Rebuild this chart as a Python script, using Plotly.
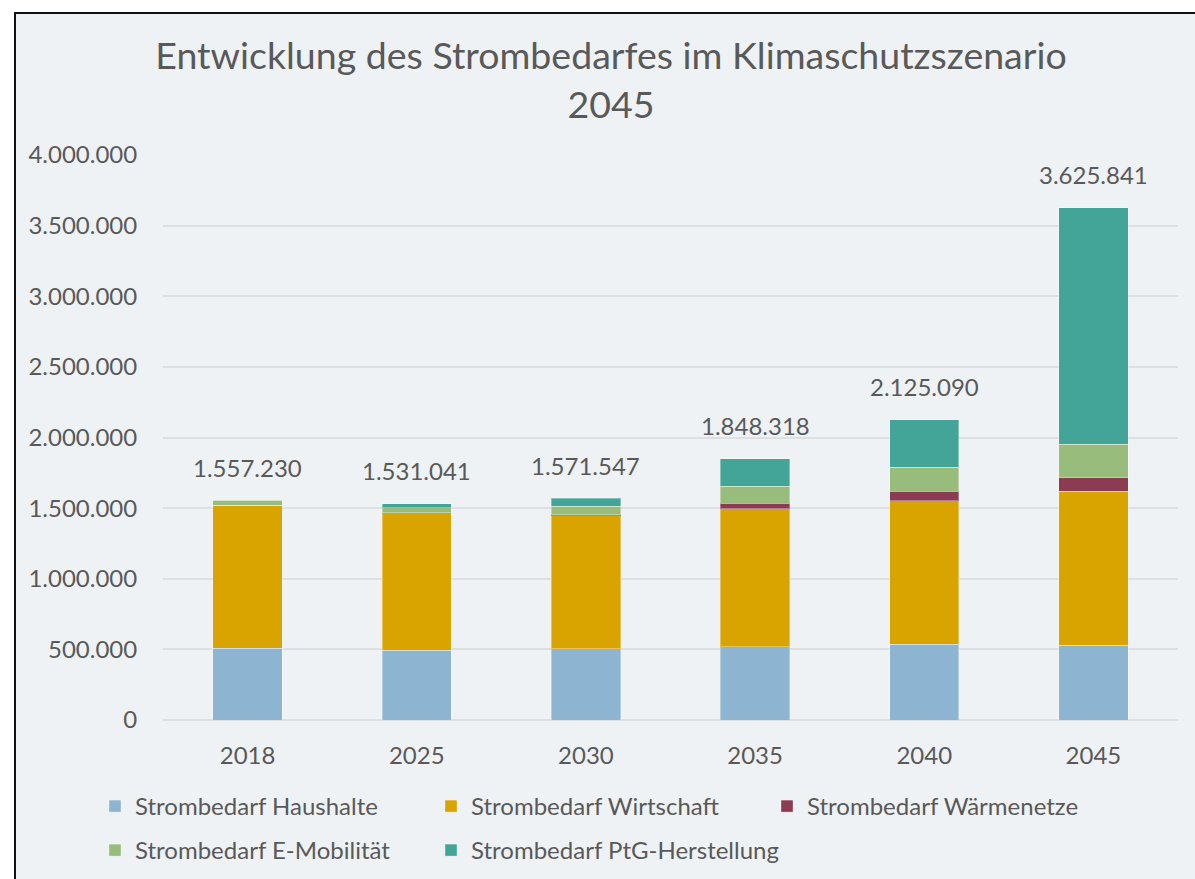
import plotly.graph_objects as go

# Stromverbrauch je Sektor in MWh, Klimaschutzszenario
years = ["2018", "2025", "2030", "2035", "2040", "2045"]
haushalte = [508000, 493000, 503000, 519000, 536000, 531000]
wirtschaft = [1014000, 975000, 943000, 978000, 1017000, 1088000]
waermenetze = [0, 0, 7000, 38000, 68000, 96000]
e_mobilitaet = [35230, 33000, 62000, 121000, 170000, 239000]
ptg_herstellung = [0, 30041, 56547, 192318, 334090, 1671841]
y_ticks = [0, 500000, 1000000, 1500000, 2000000, 2500000, 3000000, 3500000, 4000000]

series = [
    ("Strombedarf Haushalte", haushalte, "#8DB4D1", "legend"),
    ("Strombedarf Wirtschaft", wirtschaft, "#D9A300", "legend"),
    ("Strombedarf Wärmenetze", waermenetze, "#8B3B52", "legend"),
    ("Strombedarf E-Mobilität", e_mobilitaet, "#98BC7C", "legend2"),
    ("Strombedarf PtG-Herstellung", ptg_herstellung, "#42A597", "legend3"),
]

totals = [sum(v) for v in zip(haushalte, wirtschaft, waermenetze, e_mobilitaet, ptg_herstellung)]


def de_num(v):
    return f"{v:,}".replace(",", ".")


W, H = 1195, 879
L, R, T, B = 163, 17, 155, 159
PW, PH = W - L - R, H - T - B


def px_x(p):
    return (p - L) / PW


def px_y(p):
    return (H - B - p) / PH


BG = "#EEF2F5"
TXT = "#595959"
FONT = "Lato, 'Open Sans', sans-serif"

fig = go.Figure()
for name, vals, color, leg in series:
    fig.add_trace(go.Bar(
        x=years, y=vals, name=name, legend=leg,
        marker=dict(color=color, line=dict(color="rgba(255,255,255,0.35)", width=1)),
    ))

# Summenbeschriftung über jedem Stapel (Kategorie-Index als x-Position)
for i, tot in enumerate(totals):
    fig.add_annotation(
        x=i, y=tot, xref="x", yref="y",
        text=de_num(tot),
        showarrow=False, yshift=33,
        font=dict(size=24, color=TXT, family=FONT),
    )

# Rahmen des Diagrammbereichs
fig.add_shape(
    type="rect", xref="paper", yref="paper", layer="below",
    x0=px_x(15), x1=px_x(1300), y0=px_y(1000), y1=px_y(13),
    fillcolor=BG, line=dict(color="#111111", width=2),
)

legend_style = dict(
    orientation="h", xanchor="left", yanchor="top",
    bgcolor="rgba(0,0,0,0)", font=dict(size=24, color=TXT),
    entrywidth=291, entrywidthmode="pixels", itemwidth=30,
    traceorder="normal",
)
last_style = dict(legend_style, entrywidth=0)

fig.update_layout(
    width=W, height=H,
    margin=dict(l=L, r=R, t=T, b=B, autoexpand=False),
    paper_bgcolor="white", plot_bgcolor=BG,
    barmode="stack", bargap=0.59,
    font=dict(family=FONT, color=TXT, size=20),
    title=dict(
        text="Entwicklung des Strombedarfes im Klimaschutzszenario<br>2045",
        x=611 / W, xref="container", xanchor="center",
        y=1 - 69 / H, yref="container", yanchor="top",
        font=dict(size=37.5, color=TXT, family=FONT),
    ),
    xaxis=dict(
        type="category", categoryorder="array", categoryarray=years,
        range=[-0.5, len(years) - 0.5],
        showgrid=False, showline=False, zeroline=False,
        ticks="outside", ticklen=14, tickcolor="rgba(0,0,0,0)",
        tickfont=dict(size=24, color=TXT),
    ),
    yaxis=dict(
        range=[0, 4000000], tickmode="array", tickvals=y_ticks,
        ticktext=[de_num(v) for v in y_ticks],
        showgrid=True, gridcolor="#DDDFE1", gridwidth=2,
        zeroline=True, zerolinecolor="#DDDFE1", zerolinewidth=2,
        showline=False, ticks="outside", ticklen=20, tickcolor="rgba(0,0,0,0)",
        tickfont=dict(size=24, color=TXT),
    ),
    legend=dict(x=px_x(95), y=px_y(784), **legend_style),
    legend2=dict(x=px_x(95), y=px_y(828), **legend_style),
    legend3=dict(x=px_x(95 + 336), y=px_y(828), **last_style),
)

fig.write_html("out.html")
